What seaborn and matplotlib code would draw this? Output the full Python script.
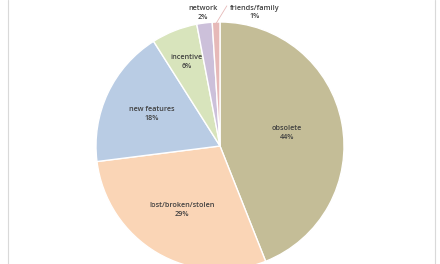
import numpy as np
import matplotlib
matplotlib.use("Agg")
import matplotlib.pyplot as plt
import seaborn as sns

categories = ["obsolete", "lost/broken/stolen", "new features", "incentive", "network", "friends/family"]
values = [44, 29, 18, 6, 2, 1]
colors = ["#C4BD97", "#FAD5B6", "#B9CCE4", "#D8E4BC", "#CCC0DA", "#E6B9B8"]
label_r = [0.55, 0.60, 0.61, 0.73, 1.08, 1.11]

sns.set_theme(style="white")
plt.rcParams['font.family'] = ['Open Sans', 'DejaVu Sans']

fig = plt.figure(figsize=(4.4, 2.64), dpi=100)
ax = fig.add_axes([0, 0, 1, 1])
R = 124.0

wedges, _ = ax.pie(values, colors=colors, startangle=90, counterclock=False,
                   radius=1.0, center=(0, 0), frame=True,
                   wedgeprops=dict(edgecolor='white', linewidth=1.0))
ax.set_xlim(-220 / R, 220 / R)
ax.set_ylim((146 - 264) / R, 146 / R)
ax.set_aspect('equal')
ax.axis('off')

for i, w in enumerate(wedges):
    mid = np.deg2rad((w.theta1 + w.theta2) / 2)
    r = label_r[i]
    if categories[i] == "friends/family":
        ang = np.deg2rad(75.5)
        x, y = r * np.cos(ang), r * np.sin(ang)
        ax.plot([np.cos(mid) * 0.99, 0.055], [np.sin(mid) * 0.99, 1.13],
                color='#E6B9B8', lw=0.6)
    else:
        x, y = r * np.cos(mid), r * np.sin(mid)
    ax.text(x, y, f"{categories[i]}\n{values[i]}%", ha='center', va='center',
            fontsize=5.2, color='#404040', fontweight='semibold', linespacing=1.3)

fig.add_artist(plt.Line2D([7.5 / 440, 7.5 / 440], [0, 1], color='#D9D9D9', lw=0.8))
fig.add_artist(plt.Line2D([434.5 / 440, 434.5 / 440], [0, 1], color='#D9D9D9', lw=0.8))

fig.savefig("out.png", dpi=100)
